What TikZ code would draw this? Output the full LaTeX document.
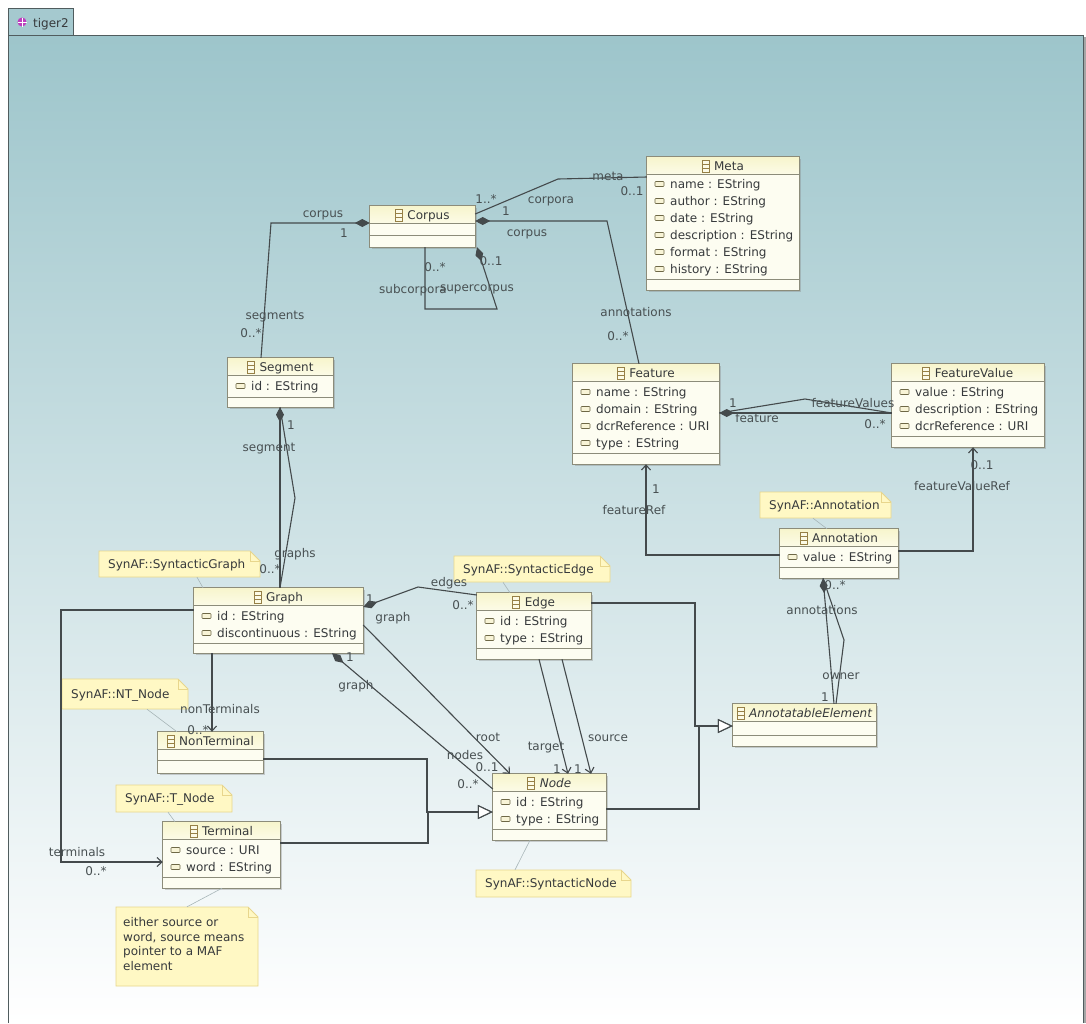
\documentclass[tikz,border=0pt]{standalone}
\usepackage{fontspec}
\setmainfont{DejaVu Sans}
\usetikzlibrary{arrows.meta,fit,shadows}
\definecolor{bgtop}{RGB}{157,197,203}
\definecolor{bgmid}{RGB}{198,223,227}
\definecolor{tabfill}{RGB}{165,201,207}
\definecolor{framec}{RGB}{80,92,94}
\definecolor{clsfill}{RGB}{253,253,241}
\definecolor{hdrtop}{RGB}{247,245,205}
\definecolor{hdrbot}{RGB}{252,251,230}
\definecolor{clsborder}{RGB}{140,140,122}
\definecolor{txt}{RGB}{55,58,60}
\definecolor{lblc}{RGB}{72,80,82}
\definecolor{linec}{RGB}{68,74,76}
\definecolor{notefill}{RGB}{255,248,196}
\definecolor{noteborder}{RGB}{232,214,140}
\definecolor{iconc}{RGB}{150,128,70}
\definecolor{attrc}{RGB}{110,104,70}
\definecolor{attrfill}{RGB}{248,244,214}
\definecolor{notelinkc}{RGB}{168,182,184}
\definecolor{pkgc}{RGB}{190,60,190}
\tikzset{
 x=1pt,y=-1pt,
 every node/.style={font=\fontsize{12}{14.7}\selectfont, text=txt, inner sep=0pt},
 clsbox/.style={fill=clsfill, draw=none, drop shadow={shadow xshift=2pt,shadow yshift=-2pt,opacity=0.35,fill=gray}},
 clsline/.style={draw=clsborder, line width=0.9pt},
 lab/.style={text=lblc},
 assoc/.style={draw=linec, line width=1.1pt},
 comp/.style={assoc, {Diamond[length=15pt,width=8pt,fill=linec]}-},
 nav/.style={assoc, -{Straight Barb[length=5pt,width=9pt]}},
 inh/.style={assoc, -{Triangle[open,length=15pt,width=14pt,fill=white]}},
 notebox/.style={fill=notefill, draw=noteborder, line width=0.8pt},
 notelink/.style={draw=notelinkc, line width=0.6pt},
 attricon/.style={draw=attrc, fill=attrfill, line width=0.6pt, rounded corners=0.8pt},
}
\newcounter{nn}
\newcommand\klass[7]{%
 \node[clsbox, fit={(#2,#3) (#4,#5)}] (#1) {};
 \shade[top color=hdrtop, bottom color=hdrbot] (#2,#3) rectangle (#4,#3+17);
 \draw[clsline] (#2,#3+17) -- (#4,#3+17) (#2,#6) -- (#4,#6);
 \draw[clsline] (#1.north west) rectangle (#1.south east);
 \node[anchor=base] (#1-t) at ({(#2+#4)/2+6},#3+13) {#7};
 \draw[iconc, line width=0.7pt, fill=hdrbot] ([xshift=-12pt,yshift=-2pt]#1-t.base west) rectangle ++(7pt,12pt);
 \draw[iconc, line width=0.7pt] ([xshift=-12pt,yshift=2pt]#1-t.base west) -- ++(7pt,0pt)
   ([xshift=-12pt,yshift=6pt]#1-t.base west) -- ++(7pt,0pt);
}
\newcommand\kattr[3]{\stepcounter{nn}%
 \draw[attricon] (#1+8,#2-2.5) rectangle (#1+17,#2+2.5);
 \node[anchor=base west] (a\thenn) at (#1+23,#2+4.3) {#3};}
\newcommand\clab[3]{\stepcounter{nn}\node[lab, anchor=base] (l\thenn) at (#1,#2+4) {#3};}
\newcommand\unote[6]{%
 \path[notebox] (#2,#3) -- (#4-10,#3) -- (#4,#3+10) -- (#4,#5) -- (#2,#5) -- cycle;
 \draw[draw=noteborder, line width=0.8pt] (#4-10,#3) -- (#4-10,#3+10) -- (#4,#3+10);
 \node[fit={(#2,#3) (#4,#5)}] (#1) {};
 \node[anchor=base west] (#1-t) at (#2+9,{(#3+#5)/2+4.3}) {#6};
}
\begin{document}
\begin{tikzpicture}
\useasboundingbox (0,0) rectangle (1086,1023);
\fill[white] (0,0) rectangle (1086,1023);
% frame
\shade[top color=bgtop, middle color=bgmid, bottom color=white] (8,35) rectangle (1083,1023);
\draw[fill=tabfill, draw=framec, line width=0.9pt] (8,35) -- (8,8) -- (73,8) -- (73,35);
\draw[framec, line width=1pt] (8,1023) -- (8,35) -- (1083,35) -- (1083,1023);
\draw[gray!70, line width=1.5pt] (1085,37) -- (1085,1023);
\fill[pkgc] (22,22) circle (4.5);
\draw[white, line width=0.6pt] (17.5,22) -- (26.5,22) (22,17.5) -- (22,26.5);
\node[anchor=base west] (tab) at (33,27.5) {tiger2};

% classes
\klass{Corpus}{370}{206}{475}{247}{235}{Corpus}
\klass{Meta}{647}{157}{799}{290}{279}{Meta}
\kattr{647}{184}{name : EString}
\kattr{647}{201}{author : EString}
\kattr{647}{218}{date : EString}
\kattr{647}{235}{description : EString}
\kattr{647}{252}{format : EString}
\kattr{647}{269}{history : EString}
\klass{Segment}{228}{358}{333}{407}{397}{Segment}
\kattr{228}{386}{id : EString}
\klass{Feature}{573}{364}{719}{464}{453}{Feature}
\kattr{573}{392}{name : EString}
\kattr{573}{409}{domain : EString}
\kattr{573}{426}{dcrReference : URI}
\kattr{573}{443}{type : EString}
\klass{FeatureValue}{892}{364}{1044}{447}{436}{FeatureValue}
\kattr{892}{392}{value : EString}
\kattr{892}{409}{description : EString}
\kattr{892}{426}{dcrReference : URI}
\klass{Annotation}{780}{529}{898}{578}{567}{Annotation}
\kattr{780}{557}{value : EString}
\klass{Graph}{194}{588}{363}{653}{643}{Graph}
\kattr{194}{616}{id : EString}
\kattr{194}{633}{discontinuous : EString}
\klass{Edge}{477}{593}{591}{659}{648}{Edge}
\kattr{477}{621}{id : EString}
\kattr{477}{638}{type : EString}
\klass{NonTerminal}{158}{732}{263}{773}{760}{NonTerminal}
\klass{Terminal}{163}{822}{280}{888}{877}{Terminal}
\kattr{163}{850}{source : URI}
\kattr{163}{867}{word : EString}
\klass{Node}{493}{774}{606}{840}{829}{\itshape Node}
\kattr{493}{802}{id : EString}
\kattr{493}{819}{type : EString}
\klass{AnnotatableElement}{733}{704}{876}{746}{735}{\itshape AnnotatableElement}

% notes
\unote{nSG}{99}{551}{260}{577}{SynAF::SyntacticGraph}
\unote{nSE}{454}{556}{610}{582}{SynAF::SyntacticEdge}
\unote{nNT}{62}{679}{188}{709}{SynAF::NT\_Node}
\unote{nT}{116}{785}{232}{812}{SynAF::T\_Node}
\unote{nSN}{476}{870}{631}{897}{SynAF::SyntacticNode}
\unote{nAn}{760}{492}{891}{518}{SynAF::Annotation}
\path[notebox] (116,907) -- (248,907) -- (258,917) -- (258,986) -- (116,986) -- cycle;
\draw[draw=noteborder, line width=0.8pt] (248,907) -- (248,917) -- (258,917);
\node[fit={(116,907) (258,986)}] (nL) {};
\node[anchor=north west, align=left] (nL-t) at (123,917) {either source or\\word, source means\\pointer to a MAF\\element};

% note links
\draw[notelink] (nSG.south -| 197,0) -- (Graph.north -| 203,0);
\draw[notelink] (nSE.south -| 503,0) -- (Edge.north -| 510,0);
\draw[notelink] (nNT.south -| 147,0) -- (NonTerminal.north -| 177,0);
\draw[notelink] (nT.south -| 168,0) -- (Terminal.north -| 175,0);
\draw[notelink] (nSN.north -| 515,0) -- (Node.south -| 530,0);
\draw[notelink] (nAn.south -| 813,0) -- (Annotation.north -| 827,0);
\draw[notelink] (nL.north -| 187,0) -- (Terminal.south -| 222,0);

% connectors
\draw[comp] (Corpus.west |- 0,223) -- (271,223) -- (Segment.north -| 261,0);
\clab{323}{213}{corpus}\clab{344}{233}{1}\clab{275}{315}{segments}\clab{251}{333}{0..*}

\draw[assoc] (Corpus.east |- 0,214) -- (558,179) -- (Meta.west |- 0,177);
\clab{486}{199}{1..*}\clab{506}{211}{1}\clab{551}{199}{corpora}\clab{608}{176}{meta}\clab{632}{191}{0..1}

\draw[comp] (Corpus.east |- 0,221) -- (607,221) -- (Feature.north -| 639,0);
\clab{527}{232}{corpus}\clab{636}{312}{annotations}\clab{618}{336}{0..*}

\draw[comp] (Corpus.south -| 477,0) -- (497,309) -- (425,309) -- (Corpus.south -| 425,0);
\clab{435}{267}{0..*}\clab{491}{261}{0..1}\clab{413}{289}{subcorpora}\clab{477}{287}{supercorpus}

\draw[comp] (Segment.south -| 280,0) -- (Graph.north -| 280,0);
\draw[assoc] (Segment.south -| 280,0) -- (295,498) -- (Graph.north -| 280,0);
\clab{291}{425}{1}\clab{269}{447}{segment}\clab{295}{553}{graphs}\clab{270}{569}{0..*}

\draw[comp] (Graph.east |- 0,607) -- (418,587) -- (Edge.west |- 0,595);
\clab{370}{599}{1}\clab{449}{582}{edges}\clab{393}{617}{graph}\clab{463}{605}{0..*}

\draw[comp] (Graph.south -| 332,0) -- (Node.west |- 0,789);
\clab{350}{657}{1}\clab{356}{685}{graph}\clab{465}{755}{nodes}\clab{468}{784}{0..*}

\draw[nav] (Graph.east |- 0,625) -- (Node.north -| 510,0);
\clab{488}{737}{root}\clab{487}{767}{0..1}

\draw[nav] (Graph.south -| 212,0) -- (NonTerminal.north -| 212,0);
\clab{220}{709}{nonTerminals}\clab{198}{730}{0..*}

\draw[nav] (Graph.west |- 0,610) -- (61,610) -- (61,862) -- (Terminal.west |- 0,862);
\clab{77}{852}{terminals}\clab{96}{871}{0..*}

\draw[nav] (Edge.south -| 539,0) -- (Node.north -| 568,0);
\clab{546}{746}{target}\clab{557}{769}{1}
\draw[nav] (Edge.south -| 562,0) -- (Node.north -| 591,0);
\clab{608}{737}{source}\clab{578}{769}{1}

\draw[inh] (NonTerminal.east |- 0,759) -- (427,759) -- (427,812) -- (Node.west |- 0,812);
\draw[inh] (Terminal.east |- 0,843) -- (428,843) -- (428,812) -- (Node.west |- 0,812);
\draw[inh] (Edge.east |- 0,603) -- (695,603) -- (695,726) -- (AnnotatableElement.west |- 0,726);
\draw[inh] (Node.east |- 0,809) -- (699,809) -- (699,726) -- (AnnotatableElement.west |- 0,726);

\draw[comp] (Feature.east |- 0,413) -- (FeatureValue.west |- 0,413);
\draw[assoc] (Feature.east |- 0,413) -- (805,399) -- (FeatureValue.west |- 0,413);
\clab{733}{403}{1}\clab{853}{403}{featureValues}\clab{757}{418}{feature}\clab{875}{424}{0..*}

\draw[nav] (Annotation.west |- 0,555) -- (646,555) -- (Feature.south -| 646,0);
\clab{656}{489}{1}\clab{634}{510}{featureRef}
\draw[nav] (Annotation.east |- 0,551) -- (973,551) -- (FeatureValue.south -| 973,0);
\clab{982}{465}{0..1}\clab{962}{486}{featureValueRef}

\draw[comp] (Annotation.south -| 823,0) -- (AnnotatableElement.north -| 834,0);
\draw[assoc] (Annotation.south -| 823,0) -- (844,640) -- (AnnotatableElement.north -| 836,0);
\clab{835}{585}{0..*}\clab{822}{610}{annotations}\clab{841}{675}{owner}\clab{825}{697}{1}
\end{tikzpicture}
\end{document}
